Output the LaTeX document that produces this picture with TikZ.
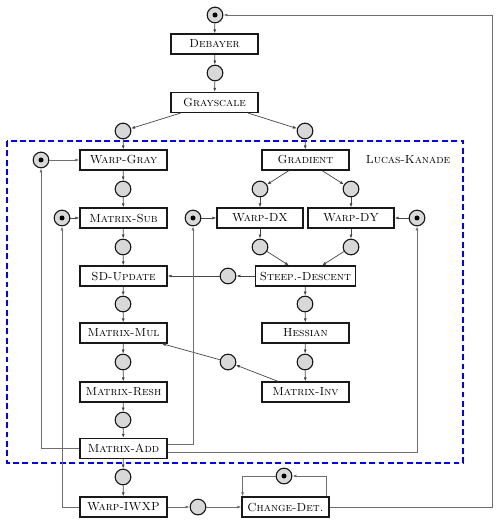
\documentclass[tikz,border=0pt]{standalone}
\usepackage{tikz}
\usetikzlibrary{arrows.meta,positioning,calc}
\definecolor{LkInk}{RGB}{25,25,25}
\definecolor{LkLine}{RGB}{70,70,70}
\definecolor{LkFeed}{RGB}{110,110,110}
\definecolor{LkFill}{RGB}{216,216,216}
\definecolor{LkBlue}{RGB}{0,0,255}
\tikzset{
  lk/box/.style={
    draw=LkInk,
    line width=1.05pt,
    fill=white,
    align=center,
    text=black,
    minimum width=2.61cm,
    minimum height=0.6cm,
    inner xsep=4pt,
    inner ysep=2pt,
    font=\normalsize
  },
  lk/place/.style={
    circle,
    draw=LkInk,
    line width=0.95pt,
    fill=LkFill,
    minimum size=0.47cm,
    inner sep=0pt
  },
  lk/token/.style={
    lk/place,
    path picture={\fill[black] (path picture bounding box.center) circle (0.075cm);}
  },
  lk/arrow/.style={-{Latex[length=3.5pt,width=2.6pt]}, semithick, draw=LkLine},
  lk/feedback/.style={-{Latex[length=3.5pt,width=2.6pt]}, thick, draw=LkFeed},
  lk/frame/.style={draw=LkBlue, line width=0.9pt, dash pattern=on 5pt off 3pt},
  lk/title/.style={font=\normalsize, text=black, align=center}
}

\begin{document}
\begin{tikzpicture}[x=0.3mm,y=-0.3mm]
  \useasboundingbox (0,0) rectangle (499,525);
  \draw[lk/frame] (7,141) rectangle (463,463);
  \node[lk/title] (lktitle) at (408,160) {\textsc{Lucas-Kanade}};

  \node[lk/token] (tokTop) at (215,15) {};
  \node[lk/box] (debayer) at (214.5,44) {\textsc{Debayer}};
  \node[lk/place] (cBayer) at (215,73) {};
  \node[lk/box] (grayscale) at (214.5,102.5) {\textsc{Grayscale}};
  \node[lk/place] (cGrayL) at (123,131) {};
  \node[lk/place] (cGrayR) at (305,131) {};

  \node[lk/token] (tokWG) at (41,160) {};
  \node[lk/box] (warpgray) at (123.5,160) {\textsc{Warp-Gray}};
  \node[lk/box] (gradient) at (305.5,160) {\textsc{Gradient}};
  \node[lk/place] (cWG) at (123,189) {};
  \node[lk/place] (cGradL) at (260,189) {};
  \node[lk/place] (cGradR) at (351,189) {};

  \node[lk/token] (tokSub) at (62,218) {};
  \node[lk/box] (matsub) at (123.5,218) {\textsc{Matrix-Sub}};
  \node[lk/token] (tokDX) at (193,218) {};
  \node[lk/box,minimum width=2.58cm] (warpdx) at (260,218) {\textsc{Warp-DX}};
  \node[lk/box,minimum width=2.58cm] (warpdy) at (351,218) {\textsc{Warp-DY}};
  \node[lk/token] (tokDY) at (417,218) {};
  \node[lk/place] (cSub) at (123,247) {};
  \node[lk/place] (cDX) at (260,247) {};
  \node[lk/place] (cDY) at (351,247) {};

  \node[lk/box] (sdupdate) at (123.5,276) {\textsc{SD-Update}};
  \node[lk/place] (cSteep) at (228,276) {};
  \node[lk/box,minimum width=2.91cm] (steep) at (305.5,276) {\textsc{Steep.-Descent}};
  \node[lk/place] (cUpd) at (123,304) {};
  \node[lk/place] (cSD) at (305,304) {};

  \node[lk/box] (matmul) at (123.5,333) {\textsc{Matrix-Mul}};
  \node[lk/box] (hessian) at (305.5,333) {\textsc{Hessian}};
  \node[lk/place] (cMul) at (123,362) {};
  \node[lk/place] (cInv) at (228,362) {};
  \node[lk/place] (cHes) at (305,362) {};
  \node[lk/box] (matresh) at (123.5,392) {\textsc{Matrix-Resh}};
  \node[lk/box] (matinv) at (305.5,392) {\textsc{Matrix-Inv}};
  \node[lk/place] (cResh) at (123,420) {};
  \node[lk/box] (matadd) at (123.5,448.5) {\textsc{Matrix-Add}};

  \node[lk/place] (cAdd) at (123,477) {};
  \node[lk/token] (tokCD) at (284,476) {};
  \node[lk/box] (warpiwxp) at (123.5,507) {\textsc{Warp-IWXP}};
  \node[lk/place] (cWarp) at (198,507) {};
  \node[lk/box] (changedet) at (285.5,507) {\textsc{Change-Det.}};
  \coordinate (rail) at (492,15);

  \draw[lk/arrow] (tokTop) -- (debayer);
  \draw[lk/arrow] (debayer) -- (cBayer);
  \draw[lk/arrow] (cBayer) -- (grayscale);
  \draw[lk/arrow] (grayscale) -- (cGrayL);
  \draw[lk/arrow] (grayscale) -- (cGrayR);
  \draw[lk/arrow] (cGrayL) -- (warpgray);
  \draw[lk/arrow] (cGrayR) -- (gradient);
  \draw[lk/feedback] (tokWG) -- (warpgray);
  \draw[lk/arrow] (warpgray) -- (cWG);
  \draw[lk/arrow] (cWG) -- (matsub);
  \draw[lk/arrow] (gradient) -- (cGradL);
  \draw[lk/arrow] (gradient) -- (cGradR);
  \draw[lk/arrow] (cGradL) -- (warpdx);
  \draw[lk/arrow] (cGradR) -- (warpdy);
  \draw[lk/arrow] (tokSub) -- (matsub);
  \draw[lk/arrow] (tokDX) -- (warpdx);
  \draw[lk/arrow] (tokDY) -- (warpdy);
  \draw[lk/arrow] (matsub) -- (cSub);
  \draw[lk/arrow] (cSub) -- (sdupdate);
  \draw[lk/arrow] (warpdx) -- (cDX);
  \draw[lk/arrow] (warpdy) -- (cDY);
  \draw[lk/arrow] (cDX) -- (steep);
  \draw[lk/arrow] (cDY) -- (steep);
  \draw[lk/arrow] (steep) -- (cSteep);
  \draw[lk/arrow] (cSteep) -- (sdupdate);
  \draw[lk/arrow] (sdupdate) -- (cUpd);
  \draw[lk/arrow] (cUpd) -- (matmul);
  \draw[lk/arrow] (steep) -- (cSD);
  \draw[lk/arrow] (cSD) -- (hessian);
  \draw[lk/arrow] (hessian) -- (cHes);
  \draw[lk/arrow] (cHes) -- (matinv);
  \draw[lk/arrow] (matinv) -- (cInv);
  \draw[lk/arrow] (cInv) -- (matmul);
  \draw[lk/arrow] (matmul) -- (cMul);
  \draw[lk/arrow] (cMul) -- (matresh);
  \draw[lk/arrow] (matresh) -- (cResh);
  \draw[lk/arrow] (cResh) -- (matadd);
  \draw[lk/arrow] (matadd) -- (cAdd);
  \draw[lk/arrow] (cAdd) -- (warpiwxp);
  \draw[lk/feedback] (warpiwxp) -- (cWarp);
  \draw[lk/feedback] (cWarp) -- (changedet);

  \draw[lk/feedback] (matadd.west) -| (tokWG);
  \draw[lk/feedback] ([yshift=3.4pt]matadd.east) -| (tokDX);
  \draw[lk/feedback] ([yshift=-3.8pt]matadd.east) -| (tokDY);
  \draw[lk/feedback] (warpiwxp.west) -| (tokSub);
  \draw[lk/feedback] ([xshift=-2.5pt]changedet.north east) |- (tokCD);
  \draw[lk/feedback] (tokCD) -| ([xshift=1pt]changedet.north west);
  \draw[lk/feedback] (changedet.east) -| (rail) -- (tokTop);
\end{tikzpicture}
\end{document}
